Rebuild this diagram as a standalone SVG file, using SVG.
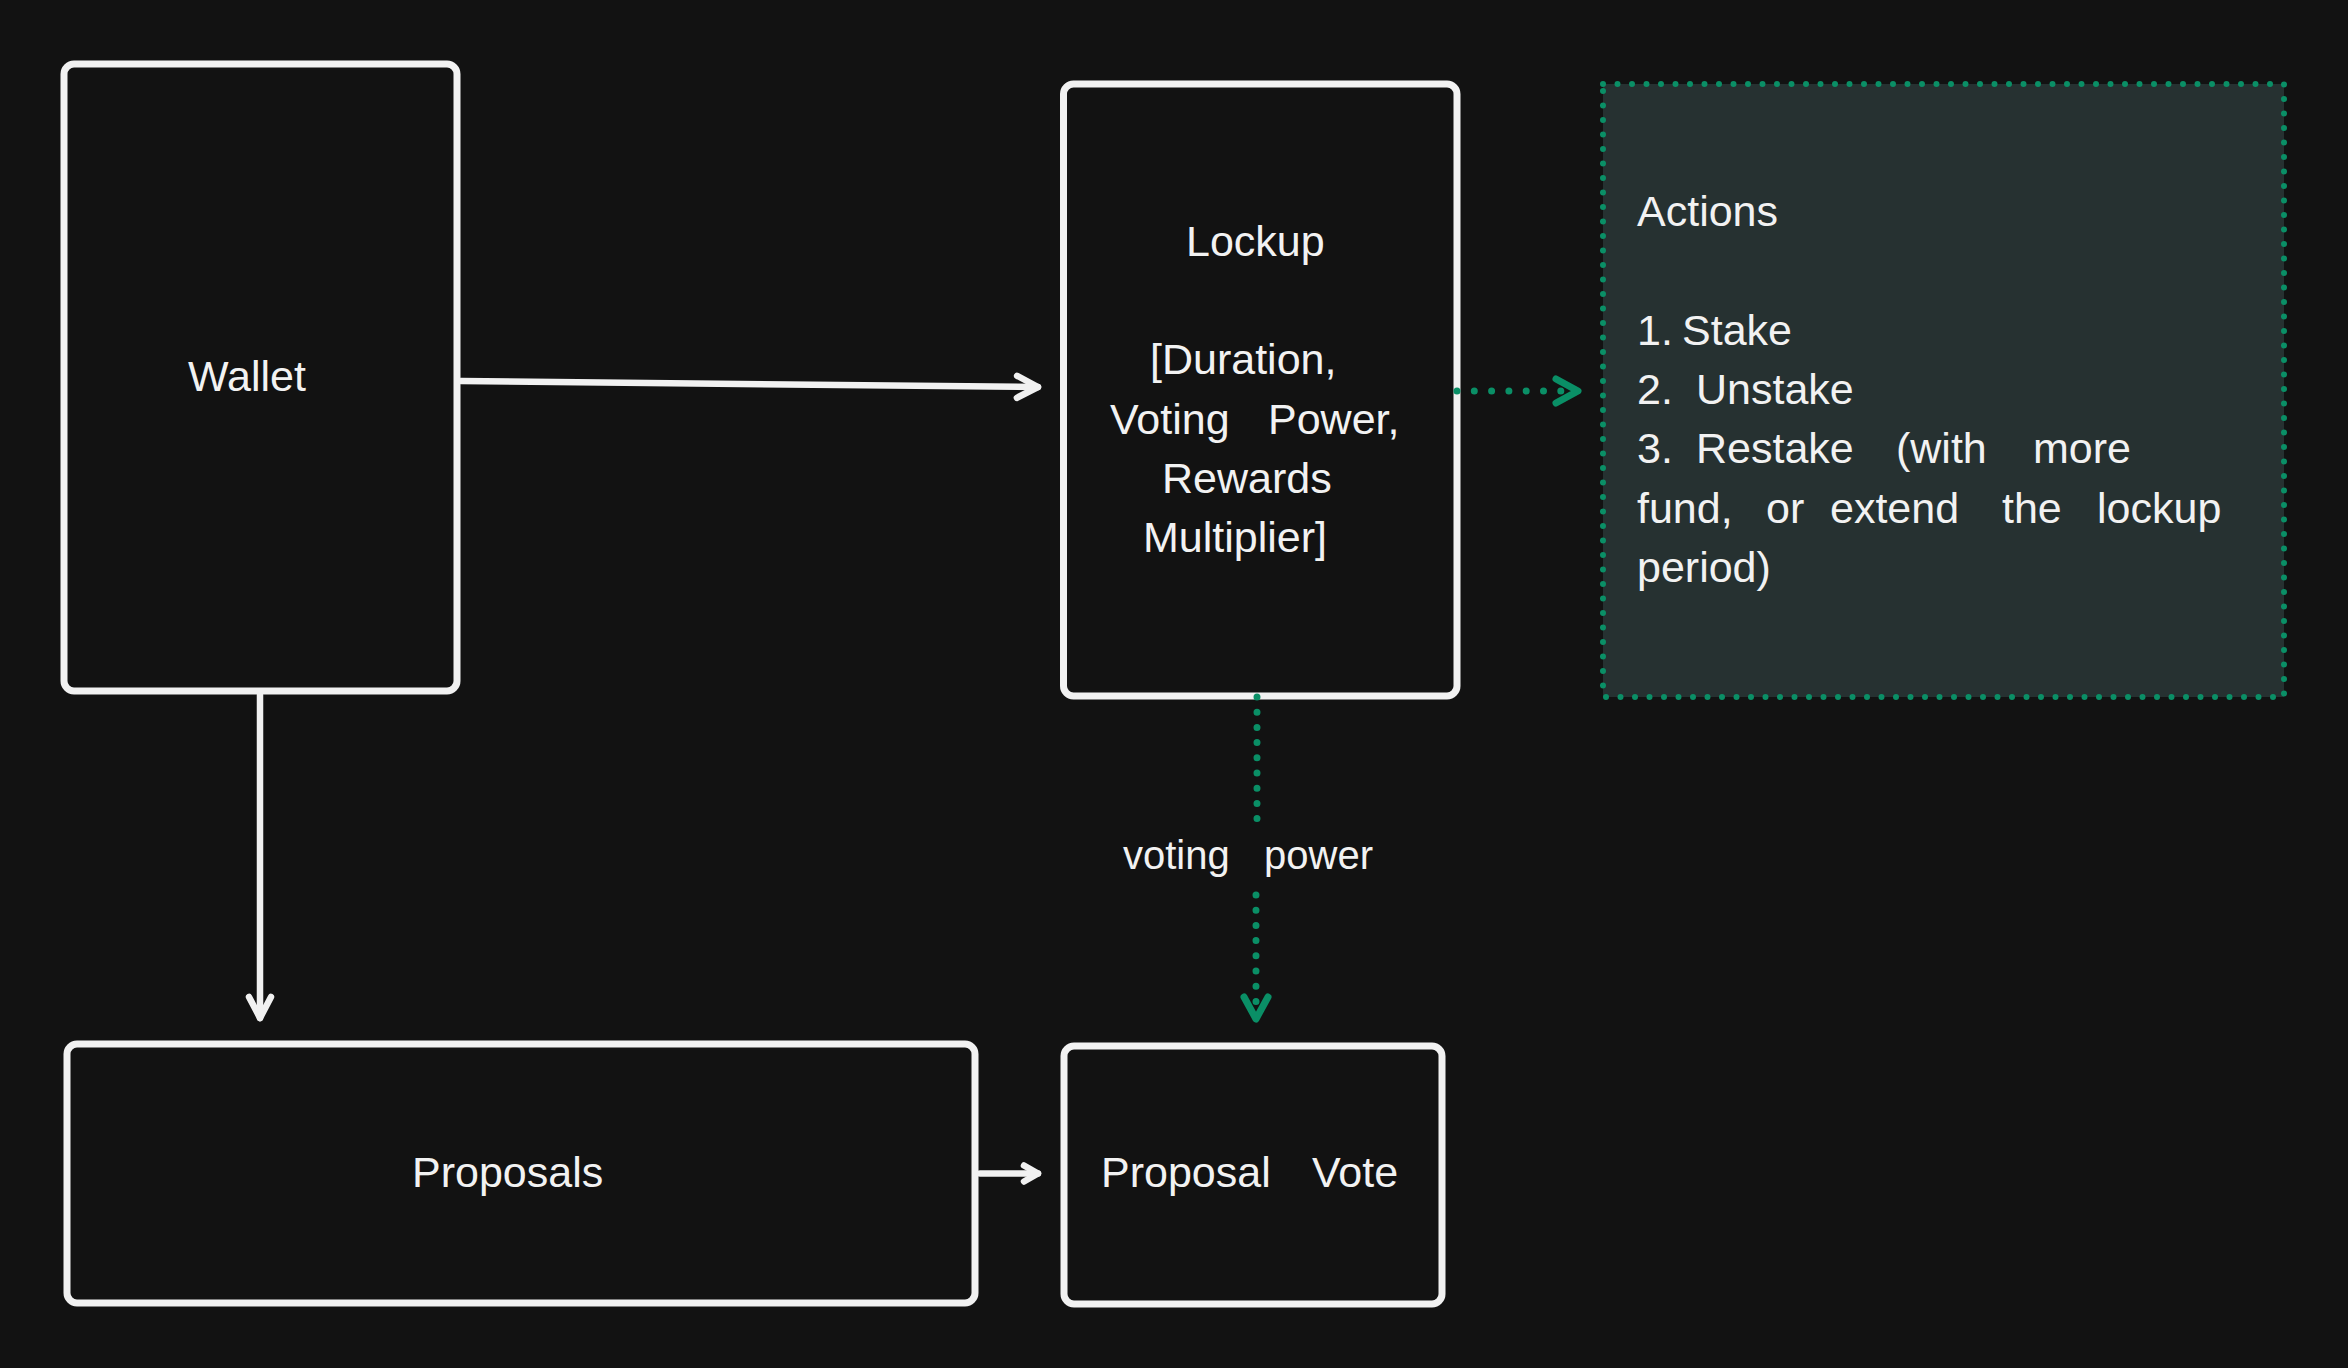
<svg xmlns="http://www.w3.org/2000/svg" width="2348" height="1368" viewBox="0 0 2348 1368">
<style>
.bg{fill:#121212}
.box{fill:#121212;stroke:#f1f1f1;stroke-width:7}
.note{fill:#263131;stroke:#0a8f66;stroke-width:6;stroke-linecap:round;stroke-dasharray:0 14.5}
.t{font-family:"Liberation Sans",Arial,Helvetica,sans-serif;font-size:43px;fill:#f2f2f2}
.lbl{font-size:40px}
.w{fill:none;stroke:#f1f1f1;stroke-width:6.5;stroke-linecap:round}
.g{fill:none;stroke:#0a8f66;stroke-width:7;stroke-linecap:round}
</style>
<defs>
<marker id="ahw" markerUnits="userSpaceOnUse" orient="auto" refX="0" refY="0" markerWidth="40" markerHeight="40" overflow="visible">
<path d="M-21,-11 L0,0 L-21,11" fill="none" stroke="#f1f1f1" stroke-width="6.5" stroke-linecap="round" stroke-linejoin="round"/>
</marker>
<marker id="ahws" markerUnits="userSpaceOnUse" orient="auto" refX="0" refY="0" markerWidth="30" markerHeight="30" overflow="visible">
<path d="M-14,-8 L0,0 L-14,8" fill="none" stroke="#f1f1f1" stroke-width="6.5" stroke-linecap="round" stroke-linejoin="round"/>
</marker>
<marker id="ahg" markerUnits="userSpaceOnUse" orient="auto" refX="0" refY="0" markerWidth="40" markerHeight="40" overflow="visible">
<path d="M-22,-12 L0,0 L-22,12" fill="none" stroke="#0a8f66" stroke-width="7" stroke-linecap="round" stroke-linejoin="round"/>
</marker>
</defs>
<rect class="bg" x="0" y="0" width="2348" height="1368"/>

<g id="wallet">
<rect class="box" x="64" y="64" width="393" height="627" rx="10"/>
<text class="t" x="247" y="391" text-anchor="middle">Wallet</text>
</g>

<g id="lockup">
<rect class="box" x="1063.5" y="84" width="393.5" height="612" rx="10"/>
<text class="t" x="1186" y="256">Lockup</text>
<text class="t" x="1150" y="374">[Duration,</text>
<text class="t" y="434"><tspan x="1110">Voting</tspan><tspan x="1268">Power,</tspan></text>
<text class="t" x="1162" y="493">Rewards</text>
<text class="t" x="1143" y="552">Multiplier]</text>
</g>

<g id="actions">
<rect class="note" x="1603" y="84" width="681" height="613"/>
<text class="t" x="1637" y="226">Actions</text>
<text class="t" y="345"><tspan x="1637">1.</tspan><tspan x="1682">Stake</tspan></text>
<text class="t" y="404"><tspan x="1637">2.</tspan><tspan x="1696">Unstake</tspan></text>
<text class="t" y="463"><tspan x="1637">3.</tspan><tspan x="1696">Restake</tspan><tspan x="1896">(with</tspan><tspan x="2033">more</tspan></text>
<text class="t" y="523"><tspan x="1637">fund,</tspan><tspan x="1766">or</tspan><tspan x="1830">extend</tspan><tspan x="2002">the</tspan><tspan x="2097">lockup</tspan></text>
<text class="t" x="1637" y="582">period)</text>
</g>

<g id="proposals">
<rect class="box" x="67" y="1044" width="908" height="259" rx="10"/>
<text class="t" x="412" y="1187">Proposals</text>
</g>

<g id="proposal-vote">
<rect class="box" x="1064" y="1046" width="378" height="258" rx="10"/>
<text class="t" y="1187"><tspan x="1101">Proposal</tspan><tspan x="1312">Vote</tspan></text>
</g>

<g id="connectors">
<path class="w" d="M461,381 L1038,387" marker-end="url(#ahw)"/>
<path class="w" d="M260,695 L260,1018" marker-end="url(#ahw)"/>
<path class="w" d="M980,1173.5 L1038,1173.5" marker-end="url(#ahws)"/>
<path class="g" d="M1457,391 L1578,391" stroke-dasharray="0 17.3" marker-end="url(#ahg)"/>
<path class="g" d="M1257,697 L1257,820" stroke-dasharray="0 15.2"/>
<path class="g" d="M1256,895 L1256,1019" stroke-dasharray="0 15.2" marker-end="url(#ahg)"/>
<text class="t lbl" y="869"><tspan x="1123">voting</tspan><tspan x="1264">power</tspan></text>
</g>
</svg>
